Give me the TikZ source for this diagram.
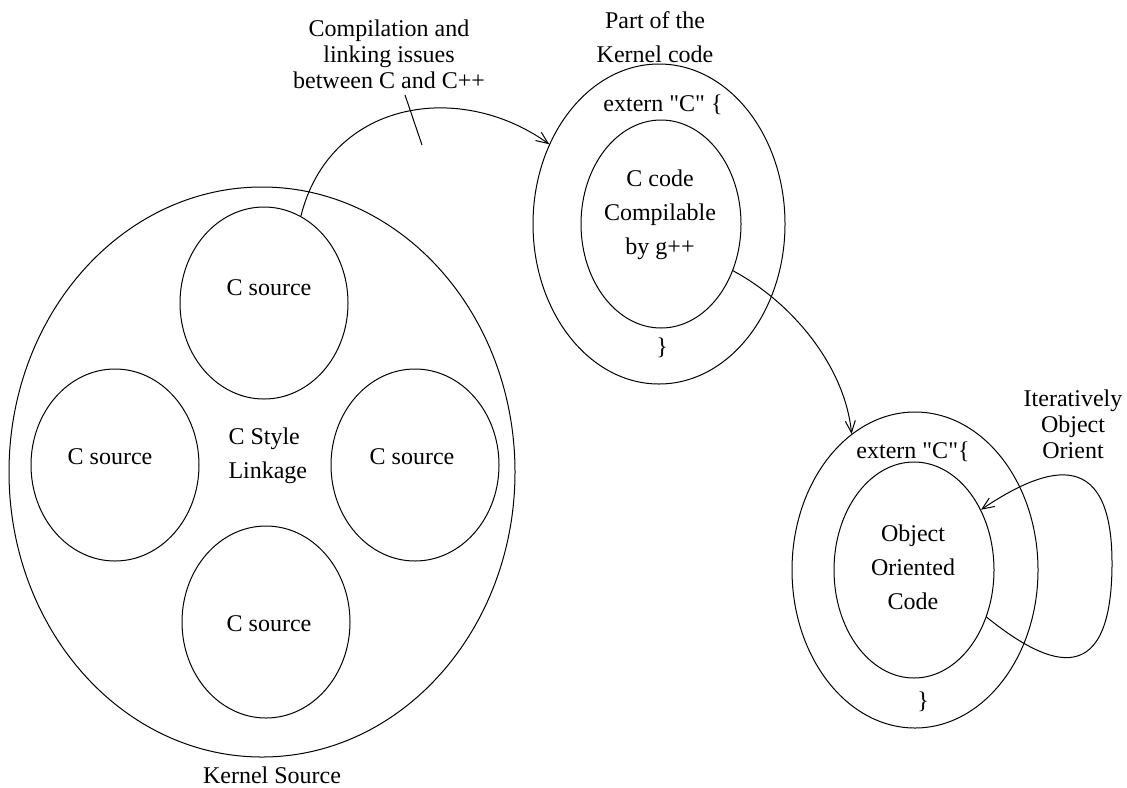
\documentclass[tikz,border=0pt]{standalone}
\usepackage{fontspec}
\setmainfont{Liberation Serif}[Ligatures=TeXOff]
\usetikzlibrary{shapes.geometric,arrows.meta}

\begin{document}
\begin{tikzpicture}[x=0.5pt,y=-0.5pt,line width=0.5pt,
    blob/.style={draw,ellipse,inner sep=0pt},
    arr/.style={-{Straight Barb[length=6pt,width=5pt]}},
    tight/.style={align=center,font=\fontsize{12}{13}\selectfont},
    loose/.style={align=center,font=\fontsize{12}{17}\selectfont}]
    \tikzstyle{every node}+=[inner sep=0pt,font=\fontsize{12}{14}\selectfont]
    \useasboundingbox (0,0) rectangle (1127,787);
    \node [blob,minimum width=253pt,minimum height=285pt] (ks) at (262,472) {};
    \node [blob,minimum width=84pt,minimum height=96pt] (cs1) at (264,303) {};
    \node [blob,minimum width=84pt,minimum height=96pt] (cs2) at (115,465) {};
    \node [blob,minimum width=84pt,minimum height=96pt] (cs3) at (415,465) {};
    \node [blob,minimum width=84pt,minimum height=96pt] (cs4) at (266,622) {};
    \node (cs1t) at (269,288) {C source};
    \node (cs2t) at (110,457) {C source};
    \node (cs3t) at (412,457) {C source};
    \node (cs4t) at (269,624) {C source};
    \node [loose,align=left,anchor=west] (link) at (228,456) {C Style\\Linkage};
    \node (kst) at (272,775) {Kernel Source};
    \node [blob,minimum width=126pt,minimum height=160pt] (kc) at (659,224) {};
    \node [blob,minimum width=80pt,minimum height=104pt] (cc) at (661,224) {};
    \node [loose] (kct) at (655,37) {Part of the\\Kernel code};
    \node (ext1) at (663,105) {extern "C" \{};
    \node [loose] (cct) at (660,215) {C code\\Compilable\\by g++};
    \node (brc1) at (662,348) {\}};
    \node [blob,minimum width=123pt,minimum height=158pt] (ext) at (915,570) {};
    \node [blob,minimum width=80pt,minimum height=108pt] (oo) at (914,570) {};
    \node (ext2) at (913,452) {extern "C"\{};
    \node [loose] (oot) at (913,567) {Object\\Oriented\\Code};
    \node (brc2) at (923,702) {\}};
    \node [tight] (iter) at (1073,424) {Iteratively\\Object\\Orient};
    \node [tight] (cpl) at (389,54) {Compilation and\\linking issues\\between C and C++};
    \coordinate (tk1) at (405,95);
    \coordinate (tk2) at (422,145);
    \draw (tk1) -- (tk2);
    \draw [arr] (cs1.67) .. controls (330,100) and (460,80) .. (kc.144);
    \draw [arr] (cc.-33) .. controls (793,303) and (845,367) .. (ext.115);
    \draw [arr] (oo.-33) .. controls (1040,660) and (1112,700) .. (1112,563)
        .. controls (1112,440) and (1040,470) .. (oo.42);
\end{tikzpicture}
\end{document}
